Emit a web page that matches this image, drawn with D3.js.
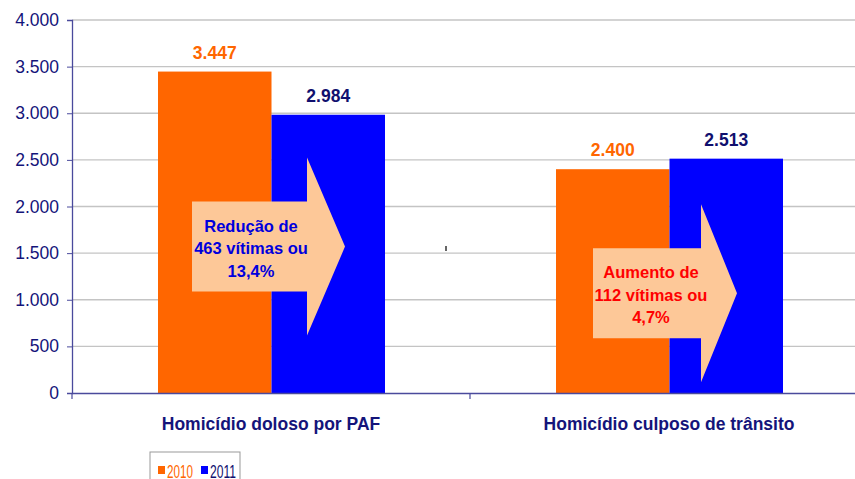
<!DOCTYPE html>
<html>
<head>
<meta charset="utf-8">
<script src="https://cdn.jsdelivr.net/npm/d3@7"></script>
<style>
  body { margin: 0; background: white; }
  svg { display: block; font-family: "Liberation Sans", Arial, sans-serif; }
</style>
</head>
<body>
<div id="chart"></div>
<script>
// chart data
const categories = ["Homicídio doloso por PAF", "Homicídio culposo de trânsito"];
const years = ["2010", "2011"];
const values2010 = [3447, 2400];
const values2011 = [2984, 2513];
const yTicks = [0, 500, 1000, 1500, 2000, 2500, 3000, 3500, 4000];
const notes = [
    { lines: ["Redução de", "463 vítimas ou", "13,4%"], color: "#0000dd", level: 1570 },
    { lines: ["Aumento de", "112 vítimas ou", "4,7%"], color: "#ff0000", level: 1070 }
];

const width = 855, height = 479;
const margin = { top: 20, left: 72, bottom: 86 };
const plotRight = 868;

const colors = { "2010": "#ff6600", "2011": "#0000ff" };
const labelColors = { "2010": "#ff6600", "2011": "#10106e" };
const navy = "#14147a";

const svg = d3.select("#chart").append("svg")
    .attr("width", width)
    .attr("height", height);

const y = d3.scaleLinear()
    .domain([0, 4000])
    .range([height - margin.bottom, margin.top]);

const x0 = d3.scaleBand()
    .domain(categories)
    .range([margin.left, plotRight]);

const x1 = d3.scaleBand()
    .domain(years)
    .range([0, 227]);

// gridlines
svg.append("g")
    .selectAll("line")
    .data(yTicks.filter(t => t > 0))
    .join("line")
    .attr("x1", margin.left)
    .attr("x2", plotRight)
    .attr("y1", d => y(d))
    .attr("y2", d => y(d))
    .attr("stroke", "#c4c4c4")
    .attr("stroke-width", 1.3);

// bars
const rows = categories.map((c, i) => ({ cat: c, vals: [
    { year: "2010", v: values2010[i] },
    { year: "2011", v: values2011[i] }
]}));

const groups = svg.append("g")
    .selectAll("g")
    .data(rows)
    .join("g")
    .attr("transform", d => `translate(${x0(d.cat) + x0.bandwidth() / 2 - 113},0)`);

groups.selectAll("rect")
    .data(d => d.vals)
    .join("rect")
    .attr("x", d => x1(d.year))
    .attr("width", x1.bandwidth())
    .attr("y", d => y(d.v))
    .attr("height", d => y(0) - y(d.v))
    .attr("fill", d => colors[d.year]);

groups.selectAll("text.val")
    .data(d => d.vals)
    .join("text")
    .attr("class", "val")
    .attr("x", d => x1(d.year) + x1.bandwidth() / 2)
    .attr("y", d => y(d.v) - 13)
    .attr("text-anchor", "middle")
    .attr("font-size", 17.5)
    .attr("font-weight", "bold")
    .attr("fill", d => labelColors[d.year])
    .text(d => d3.format(",")(d.v).replace(/,/g, "."));

// arrows with notes
const arrow = groups.append("g")
    .attr("transform", (d, i) => `translate(${i * 2},${y(notes[i].level)})`);

arrow.append("path")
    .attr("d", (d, i) => i === 0
        ? "M34,-45 H149 V-89 L187,0 L149,89 V45 H34 Z"
        : "M35,-45 H143 V-89 L179,0 L143,89 V45 H35 Z")
    .attr("fill", "#fdc898");

arrow.append("text")
    .attr("text-anchor", "middle")
    .attr("font-size", 16.5)
    .attr("font-weight", "bold")
    .attr("fill", (d, i) => notes[i].color)
    .selectAll("tspan")
    .data((d, i) => notes[i].lines)
    .join("tspan")
    .attr("x", 93)
    .attr("y", (d, j) => -15 + j * 22.5)
    .text(d => d);

// y axis
const yAxis = svg.append("g")
    .attr("transform", `translate(${margin.left},0)`)
    .call(d3.axisLeft(y).tickValues(yTicks).tickSize(5).tickPadding(8)
        .tickFormat(d => d3.format(",")(d).replace(/,/g, ".")));
yAxis.select(".domain").attr("stroke", "#4a4a9c").attr("stroke-width", 1.3);
yAxis.selectAll(".tick line").attr("stroke", "#4a4a9c");
yAxis.selectAll("text")
    .attr("fill", navy)
    .attr("font-size", 17.5)
    .attr("font-family", "Liberation Sans, Arial, sans-serif");

// x axis
const xAxis = svg.append("g")
    .attr("transform", `translate(0,${y(0)})`)
    .call(d3.axisBottom(x0).tickSize(0).tickPadding(25));
xAxis.select(".domain").attr("stroke", "#4a4a9c").attr("stroke-width", 1.6);
xAxis.selectAll("text")
    .attr("fill", navy)
    .attr("font-size", 17.5)
    .attr("font-weight", "bold")
    .attr("font-family", "Liberation Sans, Arial, sans-serif");

// category separators
svg.append("g")
    .selectAll("line")
    .data(categories)
    .join("line")
    .attr("x1", d => x0(d))
    .attr("x2", d => x0(d))
    .attr("y1", y(0))
    .attr("y2", y(0) + 6)
    .attr("stroke", "#4a4a9c")
    .attr("stroke-width", 1.2);
svg.append("line")
    .attr("x1", x0(categories[1]) - 24)
    .attr("x2", x0(categories[1]) - 24)
    .attr("y1", 246)
    .attr("y2", 251)
    .attr("stroke", "#333")
    .attr("stroke-width", 1.5);

// legend
const legend = svg.append("g").attr("transform", "translate(150,452)");
legend.append("rect")
    .attr("width", 90)
    .attr("height", 40)
    .attr("fill", "white")
    .attr("stroke", "#999");
const items = legend.selectAll("g")
    .data(years)
    .join("g")
    .attr("transform", (d, i) => `translate(${8 + i * 43},0)`);
items.append("rect")
    .attr("y", 14)
    .attr("width", 7)
    .attr("height", 8)
    .attr("fill", d => colors[d]);
items.append("text")
    .attr("x", 9)
    .attr("y", 25.5)
    .attr("font-size", 18.5)
    .attr("textLength", 26)
    .attr("lengthAdjust", "spacingAndGlyphs")
    .attr("fill", d => labelColors[d])
    .text(d => d);
</script>
</body>
</html>
